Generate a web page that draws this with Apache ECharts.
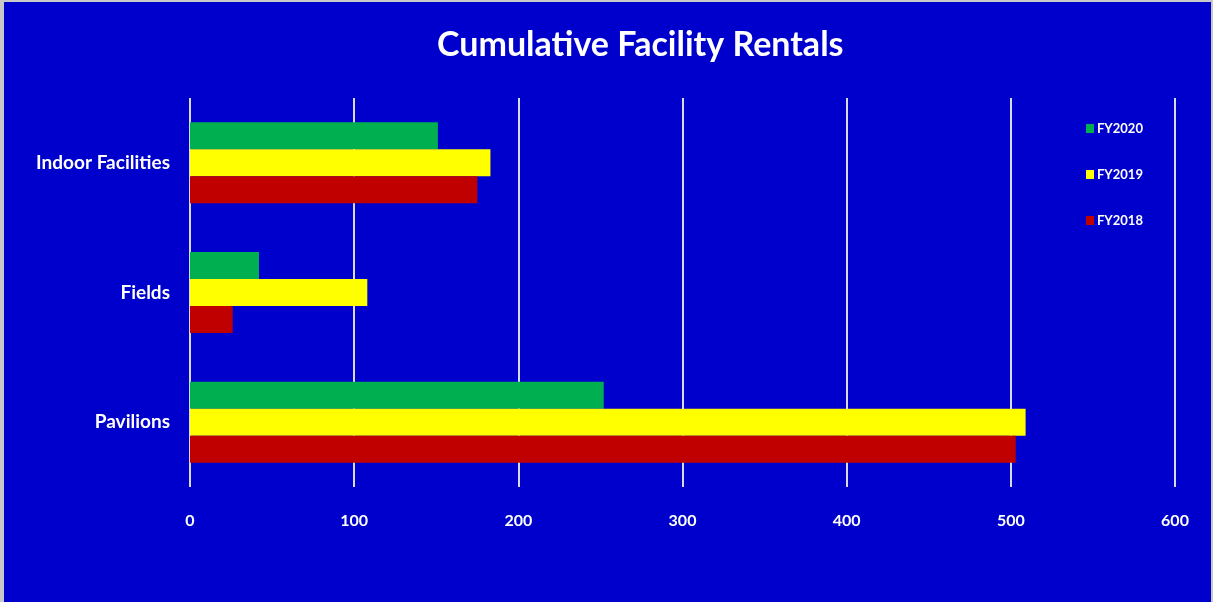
<!DOCTYPE html>
<html>
<head>
<meta charset="utf-8">
<script src="https://cdn.jsdelivr.net/npm/echarts@6/dist/echarts.min.js"></script>
<style>
  html, body { margin: 0; padding: 0; background: #c8c8c8; width: 1213px; height: 602px; overflow: hidden; }
  #chart { position: absolute; left: 4px; top: 2px; width: 1207px; height: 600px; }
</style>
</head>
<body>
<div id="chart"></div>
<script>
// Categories listed bottom-to-top (ECharts category y-axis starts at the bottom)
const categories = ['Pavilions', 'Fields', 'Indoor Facilities'];
const fy2018 = [503, 26, 175];
const fy2019 = [509, 108, 183];
const fy2020 = [252, 42, 151];
const xTicks = [0, 100, 200, 300, 400, 500, 600];

const FONT = 'Lato';
const chart = echarts.init(document.getElementById('chart'));
chart.setOption({
  backgroundColor: '#0000CC',
  animation: false,
  title: {
    text: 'Cumulative Facility Rentals',
    left: 428, top: 21,
    textStyle: { color: '#ffffff', fontFamily: FONT, fontWeight: 'bold', fontSize: 34 }
  },
  legend: {
    orient: 'vertical',
    left: 1077, top: 115,
    icon: 'rect',
    itemWidth: 8, itemHeight: 9, itemGap: 33,
    data: ['FY2020', 'FY2019', 'FY2018'],
    textStyle: { color: '#ffffff', fontFamily: FONT, fontWeight: 'bold', fontSize: 13, padding: [0,0,0,-2] }
  },
  grid: { left: 186, right: 36, top: 96, height: 389, containLabel: false },
  xAxis: {
    type: 'value', min: xTicks[0], max: xTicks[xTicks.length - 1], interval: 100,
    axisLine: { show: false }, axisTick: { show: false },
    splitLine: { show: true, lineStyle: { color: '#d9d9e6', width: 2 } },
    axisLabel: { color: '#ffffff', fontFamily: FONT, fontWeight: 'bold', fontSize: 16, margin: 26 }
  },
  yAxis: {
    type: 'category', data: categories,
    axisLine: { show: false }, axisTick: { show: false },
    axisLabel: { color: '#ffffff', fontFamily: FONT, fontWeight: 'bold', fontSize: 19, margin: 20 }
  },
  series: [
    { name: 'FY2020', type: 'bar', data: fy2020, itemStyle: { color: '#00B050' }, barGap: '0%', barCategoryGap: '37.5%' },
    { name: 'FY2019', type: 'bar', data: fy2019, itemStyle: { color: '#FFFF00' }, barGap: '0%', barCategoryGap: '37.5%' },
    { name: 'FY2018', type: 'bar', data: fy2018, itemStyle: { color: '#C00000' }, barGap: '0%', barCategoryGap: '37.5%' }
  ]
});
</script>
</body>
</html>
